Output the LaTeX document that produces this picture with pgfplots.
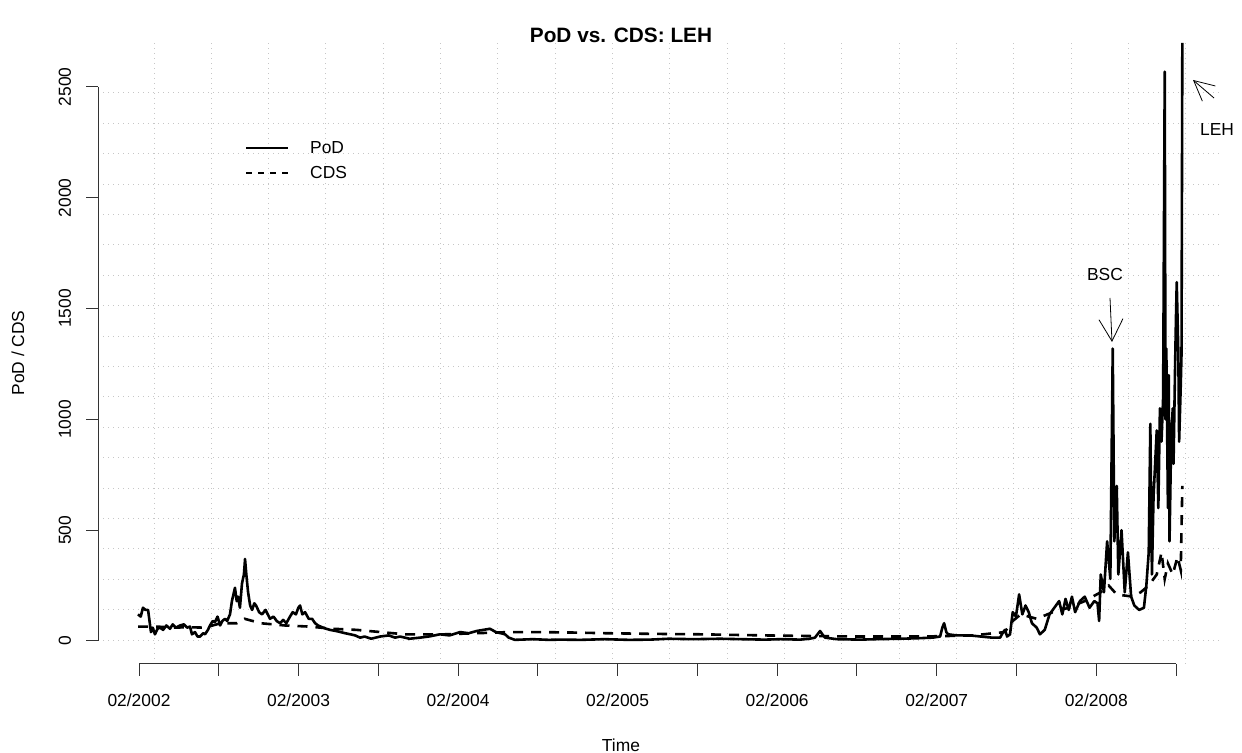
\documentclass[border=0pt]{standalone}
\usepackage{pgfplots}
\pgfplotsset{compat=1.18}
\usepackage{fontspec}
\setmainfont{Liberation Sans}
\usetikzlibrary{arrows.meta}
\begin{document}
\fontsize{8.7}{10}\selectfont
\begin{tikzpicture}
\useasboundingbox (-49pt,-44.5pt) rectangle (572pt,332pt);
% grid
\foreach \k in {0,...,18} {
  \draw[gray!45, dotted, line width=0.5pt] ({28+28.665*\k pt},0pt) -- ({28+28.665*\k pt},311pt);
  \draw[gray!45, dotted, line width=0.5pt] (0pt,{285.5-15.2*\k pt}) -- (562pt,{285.5-15.2*\k pt});
}
\begin{axis}[at={(0,0)}, anchor=south west, scale only axis, width=562pt, height=311pt,
  xmin=2001.833, xmax=2008.858, ymin=-104, ymax=2704, hide axis, clip=true]
\addplot[black, line width=1.3pt, line join=round] coordinates {
(2002.083,120)(2002.100,110)(2002.114,150)(2002.130,140)(2002.146,140)(2002.164,40)(2002.175,60)(2002.189,30)(2002.205,55)(2002.221,60)
(2002.240,50)(2002.260,70)(2002.283,55)(2002.300,75)(2002.320,60)(2002.346,70)(2002.370,75)(2002.390,60)(2002.408,65)(2002.420,30)
(2002.439,40)(2002.455,20)(2002.471,20)(2002.490,35)(2002.502,30)(2002.520,50)(2002.533,70)(2002.550,90)(2002.564,85)(2002.580,110)
(2002.596,70)(2002.610,90)(2002.627,100)(2002.640,90)(2002.658,120)(2002.670,180)(2002.689,240)(2002.700,180)(2002.708,200)(2002.720,150)
(2002.733,260)(2002.745,300)(2002.752,370)(2002.760,300)(2002.771,220)(2002.784,160)(2002.796,140)(2002.810,170)(2002.821,160)(2002.840,130)
(2002.858,120)(2002.880,140)(2002.908,100)(2002.930,110)(2002.950,90)(2002.971,80)(2002.990,95)(2003.010,80)(2003.033,110)(2003.050,130)
(2003.070,120)(2003.085,150)(2003.096,160)(2003.110,120)(2003.127,130)(2003.150,100)(2003.171,100)(2003.190,80)(2003.208,70)(2003.240,60)
(2003.260,55)(2003.283,50)(2003.320,45)(2003.350,40)(2003.377,35)(2003.410,30)(2003.440,25)(2003.471,15)(2003.500,20)(2003.540,10)
(2003.596,20)(2003.650,25)(2003.690,15)(2003.721,20)(2003.780,10)(2003.846,15)(2003.900,20)(2003.971,30)(2004.030,25)(2004.096,40)
(2004.150,35)(2004.200,45)(2004.240,50)(2004.283,55)(2004.320,40)(2004.350,35)(2004.377,30)(2004.400,15)(2004.439,5)(2004.550,8)
(2004.650,5)(2004.721,6)(2004.850,5)(2005.000,8)(2005.150,5)(2005.283,6)(2005.400,10)(2005.550,8)(2005.721,10)(2005.850,8)
(2006.000,6)(2006.100,8)(2006.221,6)(2006.280,10)(2006.314,15)(2006.346,45)(2006.360,30)(2006.377,15)(2006.450,8)(2006.596,6)
(2006.700,8)(2006.846,10)(2006.950,12)(2007.050,15)(2007.096,20)(2007.110,60)(2007.121,80)(2007.135,40)(2007.146,30)(2007.200,25)
(2007.283,25)(2007.350,20)(2007.420,15)(2007.471,15)(2007.490,40)(2007.502,50)(2007.515,20)(2007.533,30)(2007.55,130)(2007.57,110)(2007.59,210)
(2007.61,120)(2007.63,160)(2007.65,130)(2007.67,80)(2007.70,60)(2007.72,30)(2007.75,50)(2007.78,120)(2007.81,150)(2007.84,180)
(2007.86,120)(2007.88,190)(2007.90,140)(2007.92,200)(2007.94,130)(2007.97,180)(2008.00,200)(2008.03,150)(2008.06,180)(2008.08,170)
(2008.09,90)(2008.10,300)(2008.12,220)(2008.14,450)(2008.16,280)(2008.175,1320)(2008.185,450)(2008.20,700)(2008.21,300)(2008.23,500)
(2008.25,220)(2008.27,400)(2008.29,200)(2008.31,160)(2008.34,140)(2008.37,150)(2008.385,250)(2008.40,400)(2008.41,980)(2008.42,300)
(2008.43,650)(2008.44,800)(2008.45,950)(2008.46,600)(2008.47,1050)(2008.48,900)(2008.49,1100)(2008.50,2570)(2008.505,1000)(2008.51,1320)
(2008.52,600)(2008.525,1200)(2008.53,450)(2008.54,900)(2008.55,1050)(2008.555,800)(2008.565,1250)(2008.57,1450)(2008.575,1620)(2008.585,1300)
(2008.59,900)(2008.60,1150)(2008.605,1300)(2008.61,2700)
};
\addplot[black, line width=1.3pt, dash pattern=on 5pt off 4pt] coordinates {
(2002.083,65)(2002.20,65)(2002.30,60)(2002.40,62)(2002.50,60)(2002.60,80)(2002.70,80)(2002.75,100)(2002.85,80)
(2003.00,70)(2003.15,65)(2003.30,55)(2003.45,50)(2003.60,40)(2003.75,30)(2004.00,30)(2004.20,35)(2004.40,40)(2004.60,40)
(2004.80,38)(2005.00,35)(2005.30,32)(2005.60,30)(2006.00,25)(2006.30,22)(2006.60,20)(2007.00,20)(2007.30,25)(2007.50,40)
(2007.55,90)(2007.60,120)(2007.70,100)(2007.80,130)(2007.90,150)(2008.00,180)(2008.10,220)(2008.15,250)(2008.20,210)(2008.30,200)
(2008.35,220)(2008.40,250)(2008.45,300)(2008.48,400)(2008.50,280)(2008.52,350)(2008.55,300)(2008.58,380)(2008.60,320)(2008.61,700)
};
\end{axis}
% axes
\draw[black!80, line width=0.5pt] (0,11.5pt) -- (0,288.5pt);
\foreach \v/\y in {0/11.5,500/66.9,1000/122.3,1500/177.7,2000/233.1,2500/288.5} {
  \draw[black!80, line width=0.5pt] (0,\y pt) -- (-6pt,\y pt);
  \node[rotate=90] at (-16.5pt,\y pt) {\v};
}
\draw[black!80, line width=0.5pt] (20.5pt,0) -- ({20.5+39.885*13 pt},0);
\foreach \k in {0,...,13} {
  \draw[black!80, line width=0.5pt] ({20.5+39.885*\k pt},0) -- ({20.5+39.885*\k pt},-6pt);
}
\foreach \k/\l in {0/02\slash2002,2/02\slash2003,4/02\slash2004,6/02\slash2005,8/02\slash2006,10/02\slash2007,12/02\slash2008} {
  \node at ({20.5+39.885*\k pt},-18pt) {\l};
}
\node at (261.5pt,-40.5pt) {Time};
\node[rotate=90] at (-40pt,155.5pt) {PoD / CDS};
\node at (261.5pt,314.5pt) {\fontsize{10.4}{12}\selectfont\bfseries PoD vs. CDS: LEH};
% legend
\draw[black, line width=1pt] (74pt,258pt) -- (95pt,258pt);
\draw[black, line width=1pt, dash pattern=on 3pt off 3pt] (74pt,245.5pt) -- (95pt,245.5pt);
\node[anchor=west] at (103pt,258pt) {PoD};
\node[anchor=west] at (103pt,245.5pt) {CDS};
% annotations
\node at (503.5pt,194.5pt) {BSC};
\draw[line width=0.4pt, -{Straight Barb[length=11pt,width=12pt]}] (506pt,183pt) -- (507pt,161pt);
\node at (559.5pt,267pt) {LEH};
\draw[line width=0.4pt, -{Straight Barb[length=10pt,width=10pt]}] (558pt,283pt) -- (547.5pt,292pt);
\end{tikzpicture}
\end{document}
